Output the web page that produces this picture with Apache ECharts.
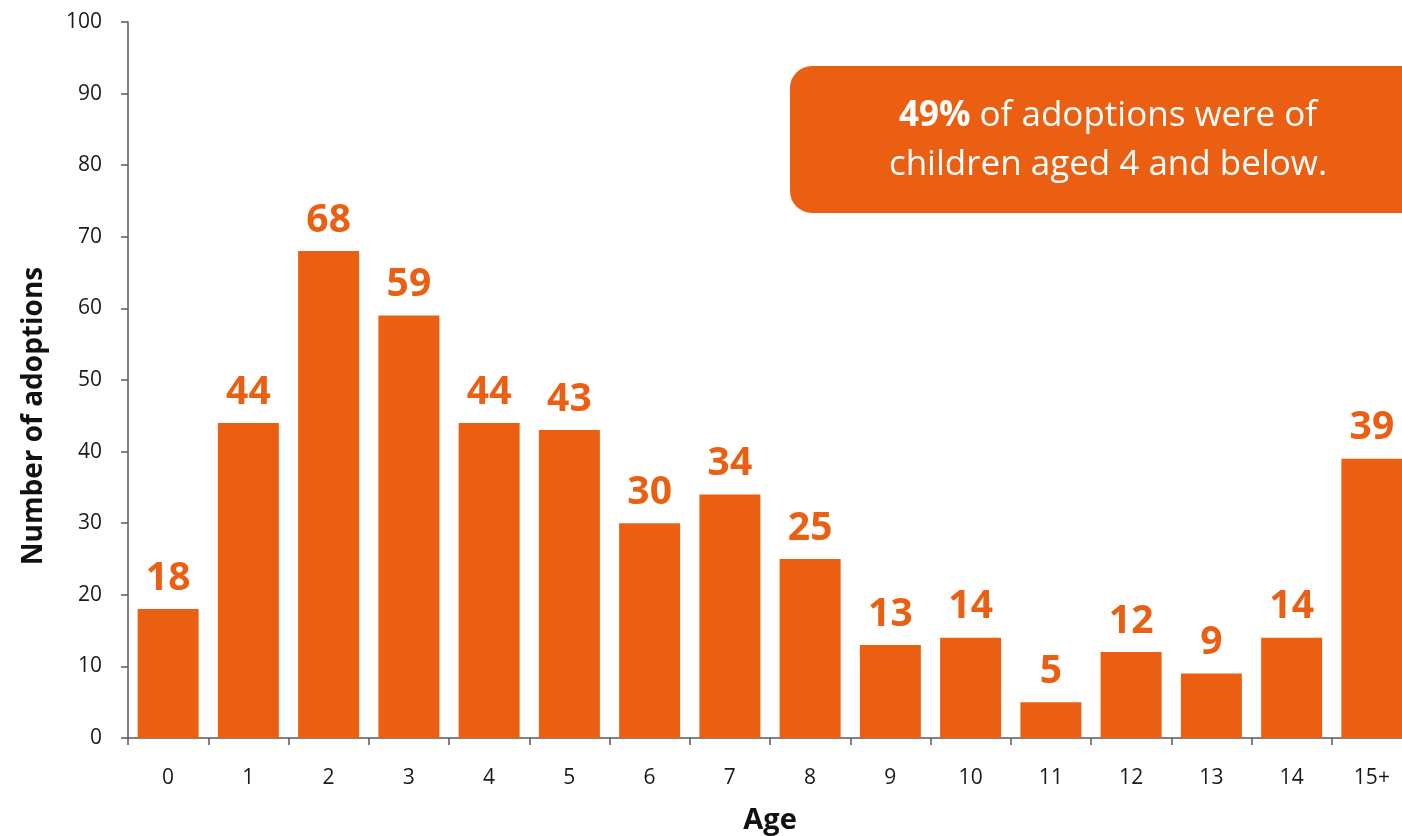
<!DOCTYPE html>
<html>
<head>
<meta charset="utf-8">
<script src="https://cdn.jsdelivr.net/npm/echarts@6/dist/echarts.min.js"></script>
<style>
html,body{margin:0;padding:0;background:#fff;overflow:hidden;width:1402px;height:836px;}
#chart{width:1412px;height:836px;}
</style>
</head>
<body>
<div id="chart"></div>
<script>
const categories = ['0','1','2','3','4','5','6','7','8','9','10','11','12','13','14','15+'];
const adoptions = [18,44,68,59,44,43,30,34,25,13,14,5,12,9,14,39];
const yTicks = {min:0, max:100, interval:10};
const xTitle = 'Age';
const yTitle = 'Number of adoptions';
const noteBold = '49%';
const noteLine1 = ' of adoptions were of';
const noteLine2 = 'children aged 4 and below.';

const ORANGE = '#EB5F12';
const FONT = '"Open Sans", "Noto Sans", sans-serif';

const chart = echarts.init(document.getElementById('chart'), null, {renderer:'canvas'});
chart.setOption({
  animation:false,
  grid:{left:128, right:0, top:22, bottom:98, containLabel:false, outerBoundsMode:'none'},
  xAxis:{
    type:'category',
    data:categories,
    name:xTitle,
    nameLocation:'middle',
    nameGap:68,
    nameTextStyle:{fontFamily:FONT, fontWeight:'bold', fontSize:29, color:'#111'},
    axisLine:{lineStyle:{color:'#595959', width:1.5}},
    axisTick:{show:true, length:7, lineStyle:{color:'#595959', width:1.5}},
    axisLabel:{fontFamily:FONT, fontSize:21, color:'#1a1a1a', margin:30}
  },
  yAxis:{
    type:'value',
    min:yTicks.min, max:yTicks.max, interval:yTicks.interval,
    splitLine:{show:false},
    axisLine:{show:true, lineStyle:{color:'#595959', width:1.5}},
    axisTick:{show:true, length:7, lineStyle:{color:'#595959', width:1.5}},
    axisLabel:{fontFamily:FONT, fontSize:21, color:'#1a1a1a', margin:26}
  },
  graphic:[
    {
      type:'rect',
      shape:{x:790, y:66, width:650, height:147, r:22},
      style:{fill:ORANGE},
      z:10
    },
    {
      type:'text',
      x:1108, y:116,
      style:{
        text:'{b|'+noteBold+'}{n|'+noteLine1+'}',
        rich:{
          b:{fontFamily:FONT, fontWeight:'bold', fontSize:35, fill:'#fff', color:'#fff'},
          n:{fontFamily:FONT, fontSize:35, fill:'#fff', color:'#fff'}
        },
        align:'center', verticalAlign:'middle'
      },
      z:11
    },
    {
      type:'text',
      x:1108, y:165,
      style:{
        text:noteLine2,
        fontFamily:FONT, fontSize:35, fill:'#fff',
        align:'center', verticalAlign:'middle'
      },
      z:11
    },
    {
      type:'text',
      x:34, y:416,
      rotation:Math.PI/2,
      style:{
        text:yTitle,
        fontFamily:FONT, fontWeight:'bold', fontSize:28, fill:'#111',
        align:'center', verticalAlign:'middle'
      },
      z:11
    }
  ],
  series:[{
    type:'bar',
    data:adoptions,
    barWidth:61,
    itemStyle:{color:ORANGE},
    label:{
      show:true, position:'top', distance:11,
      fontFamily:FONT, fontWeight:'bold', fontSize:39, color:ORANGE
    }
  }]
});
</script>
</body>
</html>
